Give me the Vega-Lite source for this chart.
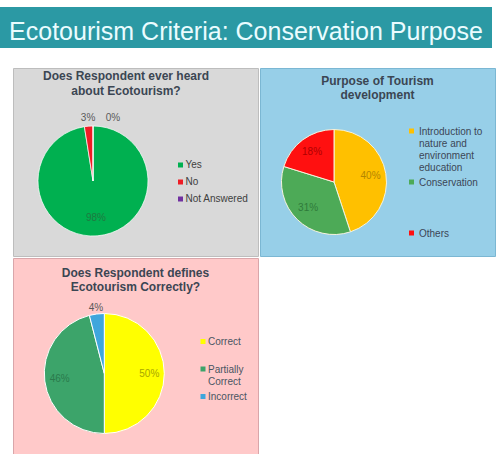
{
  "$schema": "https://vega.github.io/schema/vega-lite/v6.json",
  "padding": {"left": 0, "top": 7, "right": 0, "bottom": 0},
  "background": "#ffffff",
  "spacing": 19,
  "config": {
    "font": "Liberation Sans",
    "view": {"stroke": null},
    "title": {"fontSize": 12, "fontWeight": "bold", "color": "#3b4653", "anchor": "middle", "frame": "group", "lineHeight": 15}
  },
  "resolve": {"scale": {"color": "independent", "theta": "independent", "fill": "independent"}, "legend": {"color": "independent"}},
  "vconcat": [
    {
      "width": 492,
      "height": 41,
      "view": {"fill": "#2b99a4", "stroke": null},
      "data": {"values": [{"heading": "Ecotourism Criteria: Conservation Purpose"}]},
      "mark": {"type": "text", "fontSize": 25, "color": "#eafcff", "baseline": "alphabetic", "dy": 12},
      "encoding": {"text": {"field": "heading"}}
    },
    {
      "spacing": 0,
      "resolve": {"scale": {"color": "independent", "theta": "independent", "fill": "independent"}, "legend": {"color": "independent"}},
      "hconcat": [
        {
          "width": 12,
          "height": 10,
          "data": {"values": [{"gap": ""}]},
          "mark": {"type": "text"},
          "encoding": {"text": {"field": "gap"}}
        },
        {
          "spacing": 0,
          "resolve": {"scale": {"color": "independent", "theta": "independent", "fill": "independent"}, "legend": {"color": "independent"}},
          "vconcat": [
            {
              "spacing": 0,
              "resolve": {"scale": {"color": "independent", "theta": "independent", "fill": "independent"}, "legend": {"color": "independent"}},
              "hconcat": [
                {
                  "width": 245,
                  "height": 188,
                  "view": {"fill": "#d9d9d9", "stroke": "#bdbdbd"},
                  "title": {"text": ["Does Respondent ever heard", "about Ecotourism?"], "offset": -30, "dx": -9.5},
                  "data": {"values": [
                    {"answer": "Yes", "share": 97.5, "label": "98%"},
                    {"answer": "No", "share": 2.5, "label": "3%"},
                    {"answer": "Not Answered", "share": 0, "label": "0%"}
                  ]},
                  "transform": [{"window": [{"op": "row_number", "as": "rank"}]}],
                  "encoding": {
                    "theta": {"field": "share", "type": "quantitative", "stack": true},
                    "order": {"field": "rank", "type": "quantitative"}
                  },
                  "layer": [
                    {
                      "mark": {"type": "arc", "outerRadius": 55, "stroke": "#ffffff", "strokeWidth": 0.7, "xOffset": -42.5, "yOffset": 19},
                      "encoding": {
                        "color": {
                          "field": "answer", "type": "nominal",
                          "scale": {"domain": ["Yes", "No", "Not Answered"], "range": ["#00b050", "#ee1c25", "#7030a0"]},
                          "legend": {"orient": "none", "legendX": 162.5, "legendY": 92, "title": null, "symbolType": "square", "symbolSize": 25, "symbolStrokeWidth": 0, "labelFontSize": 10, "labelColor": "#404040", "labelOffset": 0, "rowPadding": 7, "padding": 0}
                        }
                      }
                    },
                    {
                      "mark": {"type": "text", "fontSize": 10, "xOffset": -42.5, "yOffset": 19, "radius": {"expr": "datum.answer == 'Yes' ? 37 : 63"}, "dx": {"expr": "datum.answer == 'Not Answered' ? 20 : 0"}},
                      "encoding": {
                        "text": {"field": "label"},
                        "fill": {"field": "answer", "type": "nominal", "scale": {"domain": ["Yes", "No", "Not Answered"], "range": ["#1f7a40", "#595959", "#595959"]}, "legend": null}
                      }
                    }
                  ]
                },
                {
                  "width": 235,
                  "height": 188,
                  "view": {"fill": "#97cfe8", "stroke": "#7bb7d3"},
                  "title": {"text": ["Purpose of Tourism", "development"], "offset": -34, "lineHeight": 14},
                  "data": {"values": [
                    {"purpose": "Introduction to nature and environment education", "share": 40, "label": "40%"},
                    {"purpose": "Conservation", "share": 31, "label": "31%"},
                    {"purpose": "Others", "share": 18, "label": "18%"}
                  ]},
                  "transform": [{"window": [{"op": "row_number", "as": "rank"}]}],
                  "encoding": {
                    "theta": {"field": "share", "type": "quantitative", "stack": true},
                    "order": {"field": "rank", "type": "quantitative"}
                  },
                  "layer": [
                    {
                      "mark": {"type": "arc", "outerRadius": 52.5, "stroke": "#f6f3dc", "strokeWidth": 1, "xOffset": -43.5, "yOffset": 20},
                      "encoding": {
                        "color": {
                          "field": "purpose", "type": "nominal",
                          "scale": {"domain": ["Introduction to nature and environment education", "Conservation", "Others"], "range": ["#ffc000", "#4daa57", "#ff1010"]},
                          "legend": {"orient": "none", "legendX": 146.5, "legendY": 58, "title": null, "symbolType": "square", "symbolSize": 25, "symbolStrokeWidth": 0, "labelFontSize": 10, "labelColor": "#3c4656", "labelOffset": 2.5, "rowPadding": 4, "padding": 0, "gridAlign": "all", "labelBaseline": "top",
                            "labelExpr": "datum.label == 'Introduction to nature and environment education' ? ['Introduction to', 'nature and', 'environment', 'education'] : datum.label",
                            "encoding": {"labels": {"dy": {"value": -4.5}}}}
                        }
                      }
                    },
                    {
                      "mark": {"type": "text", "fontSize": 10, "radius": 37, "xOffset": -43.5, "yOffset": 20},
                      "encoding": {
                        "text": {"field": "label"},
                        "fill": {"field": "purpose", "type": "nominal", "scale": {"domain": ["Introduction to nature and environment education", "Conservation", "Others"], "range": ["#b38600", "#2f7a3a", "#b00000"]}, "legend": null}
                      }
                    }
                  ]
                }
              ]
            },
            {
              "width": 245,
              "height": 199,
              "view": {"fill": "#ffc9c9", "stroke": "#d9a6aa"},
              "title": {"text": ["Does Respondent defines", "Ecotourism Correctly?"], "offset": -36, "lineHeight": 14},
              "data": {"values": [
                {"answer": "Correct", "share": 50, "label": "50%"},
                {"answer": "Partially Correct", "share": 46, "label": "46%"},
                {"answer": "Incorrect", "share": 4, "label": "4%"}
              ]},
              "transform": [{"window": [{"op": "row_number", "as": "rank"}]}],
              "encoding": {
                "theta": {"field": "share", "type": "quantitative", "stack": true},
                "order": {"field": "rank", "type": "quantitative"}
              },
              "layer": [
                {
                  "mark": {"type": "arc", "outerRadius": 60, "stroke": "#ffffff", "strokeWidth": 1, "xOffset": -31.2, "yOffset": 16},
                  "encoding": {
                    "color": {
                      "field": "answer", "type": "nominal",
                      "scale": {"domain": ["Correct", "Partially Correct", "Incorrect"], "range": ["#ffff00", "#3ca46a", "#3fa6dc"]},
                      "legend": {"orient": "none", "legendX": 185, "legendY": 78.5, "title": null, "symbolType": "square", "symbolSize": 25, "symbolStrokeWidth": 0, "labelFontSize": 10, "labelColor": "#4a5562", "labelOffset": 0, "rowPadding": 4.5, "padding": 0, "gridAlign": "all", "labelBaseline": "top",
                        "labelExpr": "datum.label == 'Partially Correct' ? ['Partially', 'Correct'] : datum.label",
                        "encoding": {"labels": {"dy": {"value": -4.5}}}}
                    }
                  }
                },
                {
                  "mark": {"type": "text", "fontSize": 10, "xOffset": -31.2, "yOffset": 16, "radius": {"expr": "datum.answer == 'Incorrect' ? 66 : 45"}},
                  "encoding": {
                    "text": {"field": "label"},
                    "fill": {"field": "answer", "type": "nominal", "scale": {"domain": ["Correct", "Partially Correct", "Incorrect"], "range": ["#a8a800", "#2a7a4c", "#595959"]}, "legend": null}
                  }
                }
              ]
            }
          ]
        }
      ]
    }
  ]
}
